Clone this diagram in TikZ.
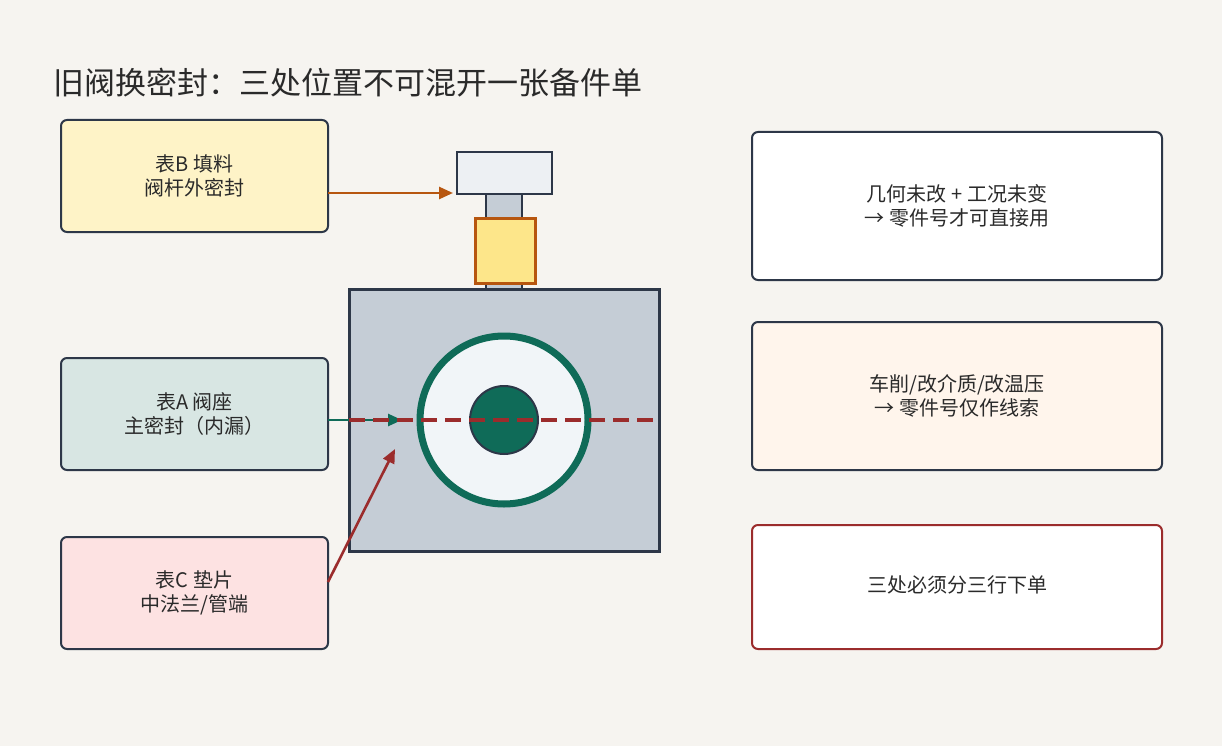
\documentclass[tikz,border=0pt]{standalone}
\usepackage{fontspec}
\setmainfont{Noto Sans CJK SC}
\usetikzlibrary{arrows.meta}
\definecolor{bg}{HTML}{F6F4F0}
\definecolor{ink}{HTML}{2D3748}
\definecolor{txt}{HTML}{2A2A2A}
\definecolor{teal}{HTML}{0F6B58}
\definecolor{rust}{HTML}{B7560F}
\definecolor{wine}{HTML}{9B2C2C}
\begin{document}
\begin{tikzpicture}[x=1pt,y=-1pt,
  lbl/.style={draw=ink,line width=2pt,rounded corners=6pt,align=center,font=\fontsize{20}{24}\selectfont,text=txt},
  part/.style={draw=ink,line width=2pt},
  arr/.style={line width=2.6pt,-{Triangle[length=14pt,width=12pt]}}]
\fill[bg] (0,0) rectangle (1222,746);
\useasboundingbox (0,0) rectangle (1222,746);
\node[anchor=west,text=txt,font=\fontsize{31}{35}\selectfont] (title) at (50,83) {旧阀换密封：三处位置不可混开一张备件单};
% left boxes
\draw[lbl,fill={rgb,255:red,254;green,243;blue,199}] (61,120) rectangle (328,232);
\node[lbl,draw=none,fill=none] (B) at (194.5,176) {表B 填料\\阀杆外密封};
\draw[lbl,fill={rgb,255:red,216;green,230;blue,227}] (61,358) rectangle (328,470);
\node[lbl,draw=none,fill=none] (A) at (194.5,414) {表A 阀座\\主密封（内漏）};
\draw[lbl,fill={rgb,255:red,253;green,226;blue,226}] (61,537) rectangle (328,649);
\node[lbl,draw=none,fill=none] (C) at (194.5,593) {表C 垫片\\中法兰/管端};
% right boxes
\draw[lbl,fill=white] (752,132) rectangle (1162,280);
\node[lbl,draw=none] (R1) at (957,206) {几何未改 + 工况未变\\→ 零件号才可直接用};
\draw[lbl,fill={rgb,255:red,255;green,245;blue,236}] (752,322) rectangle (1162,470);
\node[lbl,draw=none] (R2) at (957,396) {车削/改介质/改温压\\→ 零件号仅作线索};
\draw[lbl,draw=wine,fill=white] (752,525) rectangle (1162,649);
\node[lbl,draw=none] (R3) at (957,585) {三处必须分三行下单};
% valve
\draw[part,fill={rgb,255:red,197;green,205;blue,214}] (486,190) rectangle (522,292);
\draw[part,line width=3pt,fill={rgb,255:red,197;green,205;blue,214}] (349,289) rectangle (659,551);
\draw[part,fill={rgb,255:red,237;green,240;blue,243}] (457,152) rectangle (552,194);
\draw[line width=3pt,draw=rust,fill={rgb,255:red,253;green,230;blue,138}] (475,218) rectangle (535,283);
\draw[line width=7pt,draw=teal,fill={rgb,255:red,241;green,245;blue,248}] (504,420) circle (84);
\draw[line width=2pt,draw=ink,fill=teal] (504,420) circle (34);
\coordinate (bl) at (349,420); \coordinate (br) at (659,420);
\coordinate (tB) at (453,193); \coordinate (tA) at (402,420); \coordinate (tC) at (395,449);
\draw[arr,draw=teal,fill=teal] (328,420) -- (tA);
\draw[wine,line width=4pt,dash pattern=on 16pt off 8pt] (bl) -- (br);
\draw[arr,draw=rust,fill=rust] (328,193) -- (tB);
\draw[arr,draw=wine,fill=wine] (328,582) -- (tC);
\end{tikzpicture}
\end{document}
